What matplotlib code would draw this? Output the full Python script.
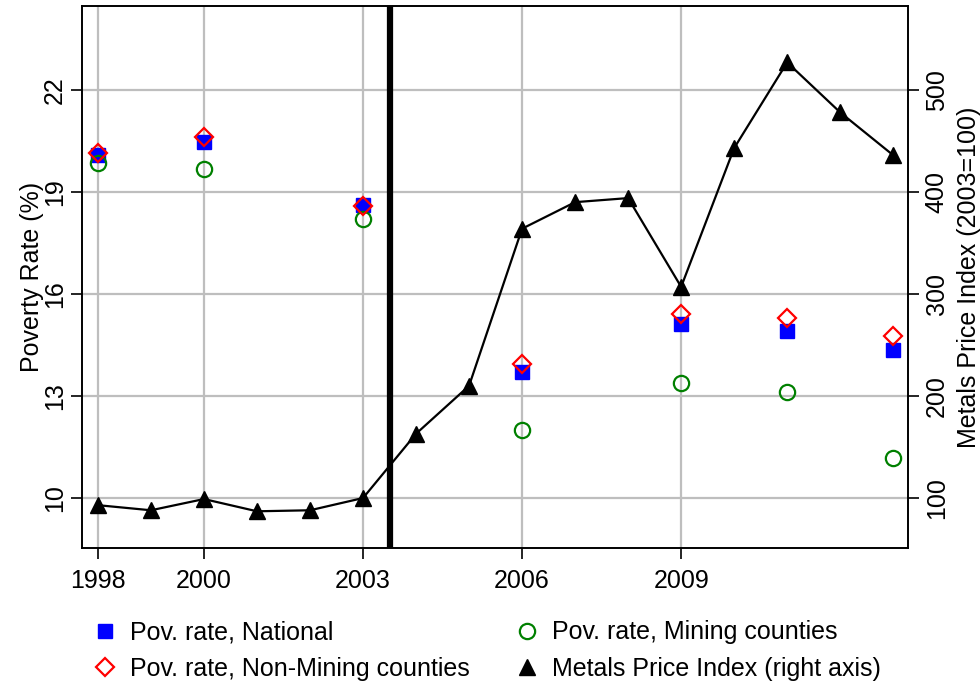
import numpy as np
import matplotlib
matplotlib.use("Agg")
import matplotlib.pyplot as plt
from matplotlib.lines import Line2D

plt.rcParams['font.family'] = ['Liberation Sans', 'DejaVu Sans']
plt.rcParams['font.size'] = 18

# Poverty rates (%) for survey years
pov_years = [1998, 2000, 2003, 2006, 2009, 2011, 2013]
pov_national = [20.09, 20.47, 18.62, 13.71, 15.12, 14.91, 14.35]
pov_mining = [19.85, 19.67, 18.20, 12.00, 13.37, 13.11, 11.17]
pov_nonmining = [20.15, 20.62, 18.60, 13.94, 15.40, 15.28, 14.77]

# Metals price index, 2003 = 100
metal_years = list(range(1998, 2014))
metal_index = [93, 88, 99, 87, 88, 100, 163, 210, 364, 390, 394, 307,
               443, 527, 478, 436]

xticks = [1998, 2000, 2003, 2006, 2009]
left_ticks = [10, 13, 16, 19, 22]
right_ticks = [100, 200, 300, 400, 500]
boom_start = 2003.5

grid_col = '#bebebe'

fig = plt.figure(figsize=(9.8, 6.87), dpi=100)
ax = fig.add_axes([0.0837, 0.2023, 0.8429, 0.789])
ax2 = ax.twinx()

# grid only at the labelled ticks
for x in xticks:
    ax.axvline(x, color=grid_col, lw=1.6, zorder=0)
for y in left_ticks:
    ax.axhline(y, color=grid_col, lw=1.6, zorder=0)

ax.axvline(boom_start, color='black', lw=4.5, zorder=1)

h1, = ax.plot(pov_years, pov_national, 's', color='blue', ms=9.5, ls='none',
              label='Pov. rate, National', zorder=3)
h3, = ax.plot(pov_years, pov_nonmining, 'D', mfc='none', mec='red', mew=1.6,
              ms=9.5, ls='none', label='Pov. rate, Non-Mining counties', zorder=4)
h2, = ax.plot(pov_years, pov_mining, 'o', mfc='none', mec='green', mew=1.6,
              ms=11, ls='none', label='Pov. rate, Mining counties', zorder=3)
ax2.plot(metal_years, metal_index, '-^', color='black', lw=1.6, ms=11)

# legend entry for the index shows the marker only
h4 = Line2D([], [], marker='^', color='black', ls='none', ms=11,
            label='Metals Price Index (right axis)')

ax.set_xlim(1997.70, 2013.28)
ax.set_ylim(8.53, 24.47)
ax2.set_ylim(51, 582.3)

ax.set_xticks(xticks)
ax.set_yticks(left_ticks)
ax2.set_yticks(right_ticks)

ax.tick_params(axis='both', direction='out', length=8, width=1.2)
ax.tick_params(axis='x', pad=7)
ax.tick_params(axis='y', labelrotation=90, pad=3)
ax2.tick_params(axis='y', direction='out', length=8, width=1.2,
                labelrotation=90, pad=4)
plt.setp(ax.get_yticklabels(), va='center')
plt.setp(ax2.get_yticklabels(), va='center')

for a in (ax, ax2):
    for s in a.spines.values():
        s.set_linewidth(1.2)

ax.set_ylabel('Poverty Rate (%)', labelpad=-1)
ax2.set_ylabel('Metals Price Index (2003=100)', labelpad=6)

fig.legend(handles=[h1, h3, h2, h4], ncol=2, frameon=False,
           loc='upper left', bbox_to_anchor=(0.094, 0.097),
           handlelength=1.0, handletextpad=0.5, columnspacing=1.8,
           labelspacing=0.5, borderaxespad=0, borderpad=0)

fig.savefig('out.png', dpi=100)
